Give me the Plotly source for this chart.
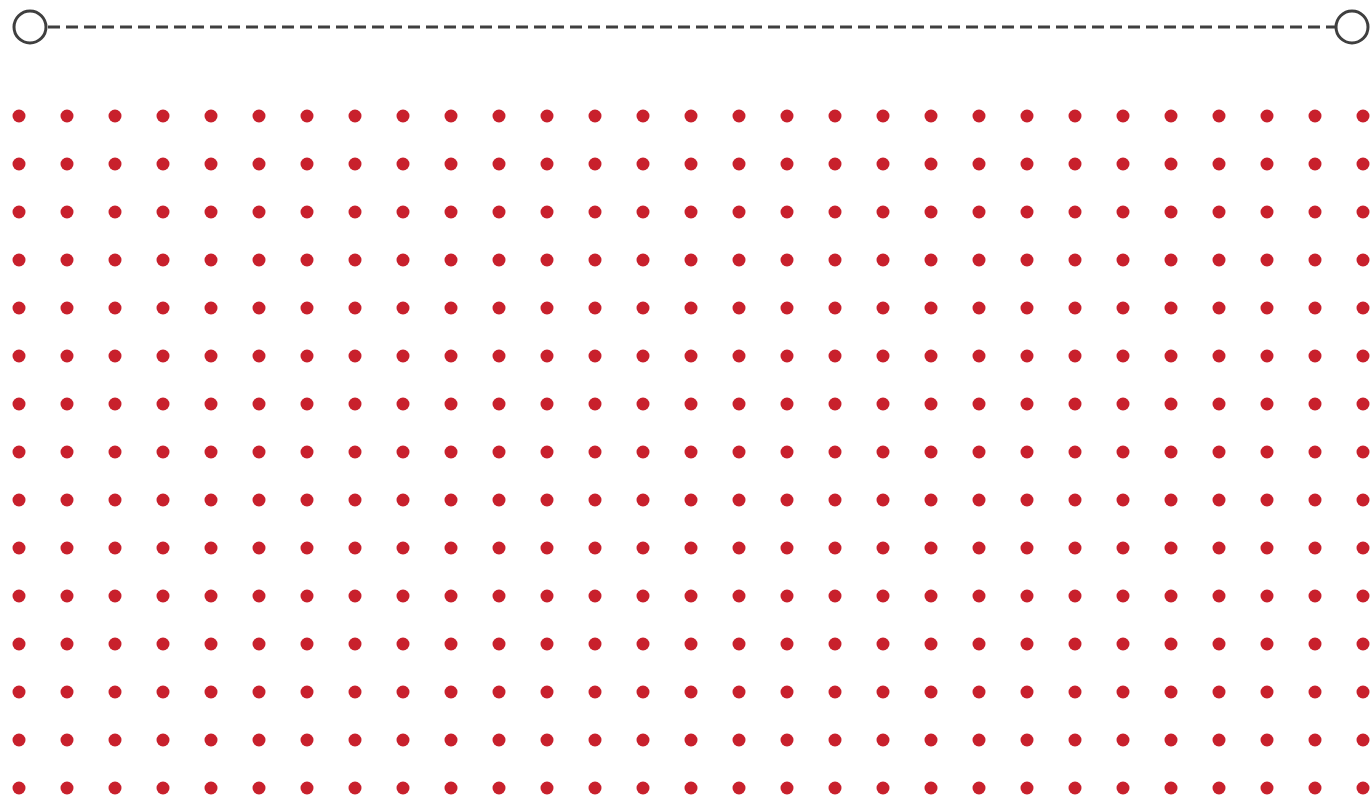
import plotly.graph_objects as go

# Grid of dots: column and row indices
columns = list(range(29))
rows = list(range(15))

# Top range line: start and end positions
range_points = [0, 1]

RED = "#C8202C"
GREY = "#3F3F3F"

grid_x = [c for r in rows for c in columns]
grid_y = [r for r in rows for c in columns]

fig = go.Figure()

fig.add_trace(go.Scatter(
    x=grid_x, y=grid_y, mode="markers",
    marker=dict(size=13, color=RED, line=dict(width=0)),
    hoverinfo="skip", showlegend=False,
    xaxis="x", yaxis="y",
))

fig.add_trace(go.Scatter(
    x=range_points, y=[0, 0], mode="lines+markers",
    line=dict(color=GREY, width=3, dash="12px,6px"),
    marker=dict(size=32, color="white", line=dict(color=GREY, width=3)),
    hoverinfo="skip", showlegend=False,
    xaxis="x2", yaxis="y2",
))

W, H = 1372, 798
# pixel mapping
x0_px, dx_px = 19, 48
y0_px, dy_px = 116, 48

fig.update_layout(
    width=W, height=H,
    margin=dict(l=0, r=0, t=0, b=0),
    paper_bgcolor="white", plot_bgcolor="white",
    xaxis=dict(range=[-x0_px / dx_px, (W - x0_px) / dx_px], visible=False, fixedrange=True),
    yaxis=dict(range=[(H - y0_px) / dy_px, -y0_px / dy_px], visible=False, fixedrange=True,
               domain=[0, 1]),
    xaxis2=dict(range=[-30 / 1322, 1 + 20 / 1322], visible=False, fixedrange=True, anchor="y2"),
    yaxis2=dict(range=[-1, 1], visible=False, fixedrange=True,
                domain=[1 - 54 / H, 1], anchor="x2"),
)

fig.write_html(
    "out.html",
    config={"displayModeBar": False},
    post_script="document.body.style.margin='0';document.documentElement.style.overflow='hidden';document.body.style.overflow='hidden';",
)
